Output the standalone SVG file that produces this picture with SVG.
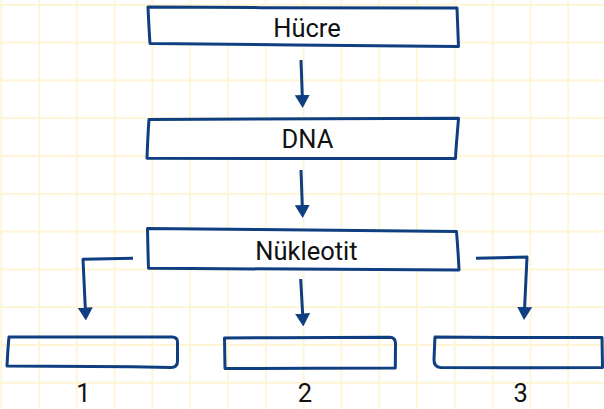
<svg xmlns="http://www.w3.org/2000/svg" width="604" height="409" viewBox="0 0 604 409">
  <defs>
    <pattern id="grid" patternUnits="userSpaceOnUse" x="-17.7" y="-14.1" width="37.8" height="37.8">
      <path d="M18.9,0 V37.8 M0,18.9 H37.8" stroke="#fff5d4" stroke-width="1.8" fill="none"/>
    </pattern>
    <marker id="head" viewBox="0 0 13 15" refX="7" refY="7.5" markerWidth="13" markerHeight="15" markerUnits="userSpaceOnUse" orient="auto">
      <path d="M0,0 L13,7.5 L0,15 Z" fill="#0f3f80"/>
    </marker>
    <style>
      .box { fill: #ffffff; stroke: #0f3f80; stroke-width: 3; stroke-linejoin: round; stroke-linecap: round; }
      .slot { fill: none; stroke: #0f3f80; stroke-width: 3; stroke-linejoin: round; stroke-linecap: round; }
      .link { fill: none; stroke: #0f3f80; stroke-width: 3; stroke-linejoin: round; marker-end: url(#head); }
      .label { font-family: Roboto, "Liberation Sans", sans-serif; font-size: 25.5px; fill: #111111; text-anchor: middle; }
    </style>
  </defs>

  <rect width="604" height="409" fill="#ffffff"/>
  <rect width="604" height="409" fill="url(#grid)"/>

  <g id="connectors">
    <path class="link" d="M301,60 L302.5,102"/>
    <path class="link" d="M301,170 L302.5,212"/>
    <path class="link" d="M300.7,279 L303,320.5"/>
    <path class="link" d="M133,258.3 L83,259.3 L85.6,314.5"/>
    <path class="link" d="M476,258.3 L527,257 L524.3,314"/>
  </g>

  <g id="node-hucre">
    <path class="box" d="M148,7 C250,7.5 370,8.5 457,8 L458.5,46.5 C360,45.5 250,44.5 150,43.5 C149,30 148.5,18 148,7 Z"/>
    <text class="label" x="307" y="36.7">Hücre</text>
  </g>

  <g id="node-dna">
    <path class="box" d="M149,119.5 C260,118.5 370,118.5 458.5,118.3 C457.5,132 456,146 455.5,158.5 C350,158.8 250,158.5 147,158.3 C147.5,145 148,132 149,119.5 Z"/>
    <text class="label" x="307.5" y="148.3">DNA</text>
  </g>

  <g id="node-nukleotit">
    <path class="box" d="M147.5,228.5 C250,229.5 360,230.5 456.5,231.5 C457.5,244 458.5,257 459,270 C350,269.5 250,268.8 148.5,268.3 C148,255 147.8,241 147.5,228.5 Z"/>
    <text class="label" x="306.5" y="260">Nükleotit</text>
  </g>

  <g id="node-1">
    <path class="slot" d="M9,337 L172,337 Q177.5,337 177.5,342 L177.5,361 Q177.5,367.5 171,367.5 C120,366.5 60,366 7,366 C7.5,356 8,346 9,337 Z"/>
    <text class="label" x="83.5" y="401.5">1</text>
  </g>

  <g id="node-2">
    <path class="slot" d="M224.5,338 C280,337.5 340,337.5 389.5,337.3 Q395.5,337.5 395.5,343.5 L395.3,368 C340,368.3 280,368.5 225,368.5 C224.8,358 224.6,348 224.5,338 Z"/>
    <text class="label" x="305" y="401.5">2</text>
  </g>

  <g id="node-3">
    <path class="slot" d="M435,337 C490,337.5 550,337.5 602,337.5 L602.5,367.5 C550,367.8 490,367.8 440.5,367.5 Q434,367 434,360 C434.3,352 434.6,344 435,337 Z"/>
    <text class="label" x="520.7" y="401.5">3</text>
  </g>
</svg>
